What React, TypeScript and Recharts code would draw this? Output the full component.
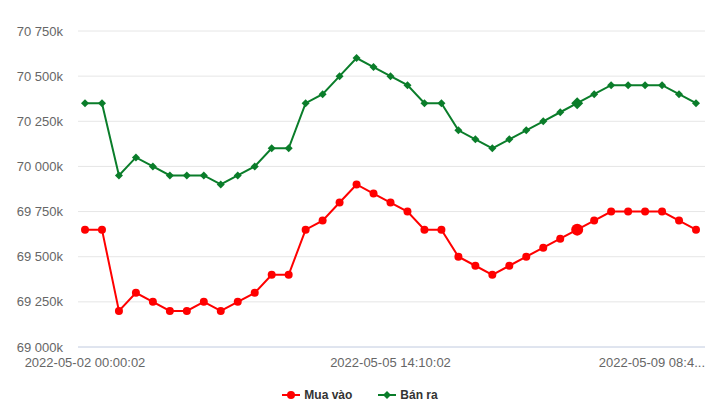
import * as React from 'react';
import { LineChart, Line, XAxis, YAxis, CartesianGrid, Legend } from 'recharts';

const times = [
  '2022-05-02 00:00:02',
  '2022-05-02 08:35:02',
  '2022-05-02 09:10:02',
  '2022-05-02 10:20:02',
  '2022-05-02 14:05:02',
  '2022-05-02 16:30:02',
  '2022-05-03 08:30:02',
  '2022-05-03 09:45:02',
  '2022-05-03 11:00:02',
  '2022-05-03 14:15:02',
  '2022-05-03 16:40:02',
  '2022-05-04 08:30:02',
  '2022-05-04 10:05:02',
  '2022-05-04 14:20:02',
  '2022-05-04 16:00:02',
  '2022-05-05 08:30:02',
  '2022-05-05 09:15:02',
  '2022-05-05 10:40:02',
  '2022-05-05 14:10:02',
  '2022-05-05 16:25:02',
  '2022-05-06 08:30:02',
  '2022-05-06 09:50:02',
  '2022-05-06 11:10:02',
  '2022-05-06 14:00:02',
  '2022-05-06 15:30:02',
  '2022-05-06 16:45:02',
  '2022-05-07 08:30:02',
  '2022-05-07 10:00:02',
  '2022-05-07 14:30:02',
  '2022-05-07 16:10:02',
  '2022-05-08 08:30:02',
  '2022-05-08 10:15:02',
  '2022-05-08 14:00:02',
  '2022-05-08 16:20:02',
  '2022-05-09 08:30:02',
  '2022-05-09 08:40:02',
  '2022-05-09 08:45:02',
];

// Mua vào (buy), in thousands
const buy = [
  69650, 69650, 69200, 69300, 69250, 69200, 69200, 69250, 69200, 69250,
  69300, 69400, 69400, 69650, 69700, 69800, 69900, 69850, 69800, 69750,
  69650, 69650, 69500, 69450, 69400, 69450, 69500, 69550, 69600, 69650,
  69700, 69750, 69750, 69750, 69750, 69700, 69650,
];

// Bán ra (sell), in thousands
const sell = [
  70350, 70350, 69950, 70050, 70000, 69950, 69950, 69950, 69900, 69950,
  70000, 70100, 70100, 70350, 70400, 70500, 70600, 70550, 70500, 70450,
  70350, 70350, 70200, 70150, 70100, 70150, 70200, 70250, 70300, 70350,
  70400, 70450, 70450, 70450, 70450, 70400, 70350,
];

const yTicks = [69000, 69250, 69500, 69750, 70000, 70250, 70500, 70750];

const HOVER_INDEX = 29;
const RED = '#ff0000';
const GREEN = '#0a7d2a';
const FONT = '"Liberation Sans", Arial, sans-serif';

const data = times.map((t, i) => ({ time: t, buy: buy[i], sell: sell[i] }));

const fmtY = (v: number) =>
  `${Math.floor(v / 1000)} ${String(v % 1000).padStart(3, '0')}k`;

const CircleDot = (props: any) => {
  const { cx, cy, index } = props;
  const r = index === HOVER_INDEX ? 6 : 4;
  return <circle key={`b-${index}`} cx={cx} cy={cy} r={r} fill={RED} />;
};

const DiamondDot = (props: any) => {
  const { cx, cy, index } = props;
  const s = index === HOVER_INDEX ? 6 : 4;
  return (
    <polygon
      key={`s-${index}`}
      points={`${cx},${cy - s} ${cx + s},${cy} ${cx},${cy + s} ${cx - s},${cy}`}
      fill={GREEN}
    />
  );
};

const XTick = (props: any) => {
  const { x, y, payload } = props;
  const v: string = payload.value;
  const last = v === times[times.length - 1];
  const label = last ? v.slice(0, 15) + '...' : v;
  return (
    <text
      x={last ? 705 : x}
      y={y}
      dy="0.71em"
      textAnchor={last ? 'end' : 'middle'}
      fill="#666"
      fontSize={13}
      fontFamily={FONT}
    >
      {label}
    </text>
  );
};

const legendItems = [
  { name: 'Mua vào', color: RED, shape: 'circle' },
  { name: 'Bán ra', color: GREEN, shape: 'diamond' },
];

const renderLegend = () => (
  <div
    style={{
      display: 'flex',
      justifyContent: 'center',
      alignItems: 'center',
      gap: 26,
      height: 20,
      fontFamily: FONT,
      fontWeight: 'bold',
      fontSize: 12,
      color: '#333',
    }}
  >
    {legendItems.map((it) => (
      <span key={it.name} style={{ display: 'flex', alignItems: 'center' }}>
        <svg width={18} height={10} style={{ marginRight: 4 }}>
          <line x1={0} y1={5} x2={18} y2={5} stroke={it.color} strokeWidth={2} />
          {it.shape === 'circle' ? (
            <circle cx={9} cy={5} r={4} fill={it.color} />
          ) : (
            <polygon points="9,1 13,5 9,9 5,5" fill={it.color} />
          )}
        </svg>
        {it.name}
      </span>
    ))}
  </div>
);

export default function App() {
  return (
    <div style={{ position: 'absolute', left: 0, top: 0, background: '#fff' }}>
      <LineChart
        width={720}
        height={415}
        data={data}
        margin={{ top: 31, right: 15, bottom: 10, left: 0 }}
      >
        <CartesianGrid vertical={false} stroke="#e6e6e6" />
        <XAxis
          dataKey="time"
          interval={17}
          tick={<XTick />}
          tickLine={false}
          axisLine={{ stroke: '#ccd6eb' }}
          tickMargin={5}
          height={38}
          padding={{ left: 7, right: 9 }}
        />
        <YAxis
          domain={[69000, 70750]}
          ticks={yTicks}
          tickFormatter={fmtY}
          tickLine={false}
          axisLine={false}
          tickMargin={9}
          width={78}
          tick={{ fill: '#666', fontSize: 13, fontFamily: FONT }}
        />
        <Legend
          verticalAlign="bottom"
          content={renderLegend}
          wrapperStyle={{ left: 0, width: 720 }}
        />
        <Line
          dataKey="buy"
          name="Mua vào"
          stroke={RED}
          strokeWidth={2}
          dot={CircleDot}
          activeDot={false}
          isAnimationActive={false}
        />
        <Line
          dataKey="sell"
          name="Bán ra"
          stroke={GREEN}
          strokeWidth={2}
          dot={DiamondDot}
          activeDot={false}
          isAnimationActive={false}
        />
      </LineChart>
    </div>
  );
}
